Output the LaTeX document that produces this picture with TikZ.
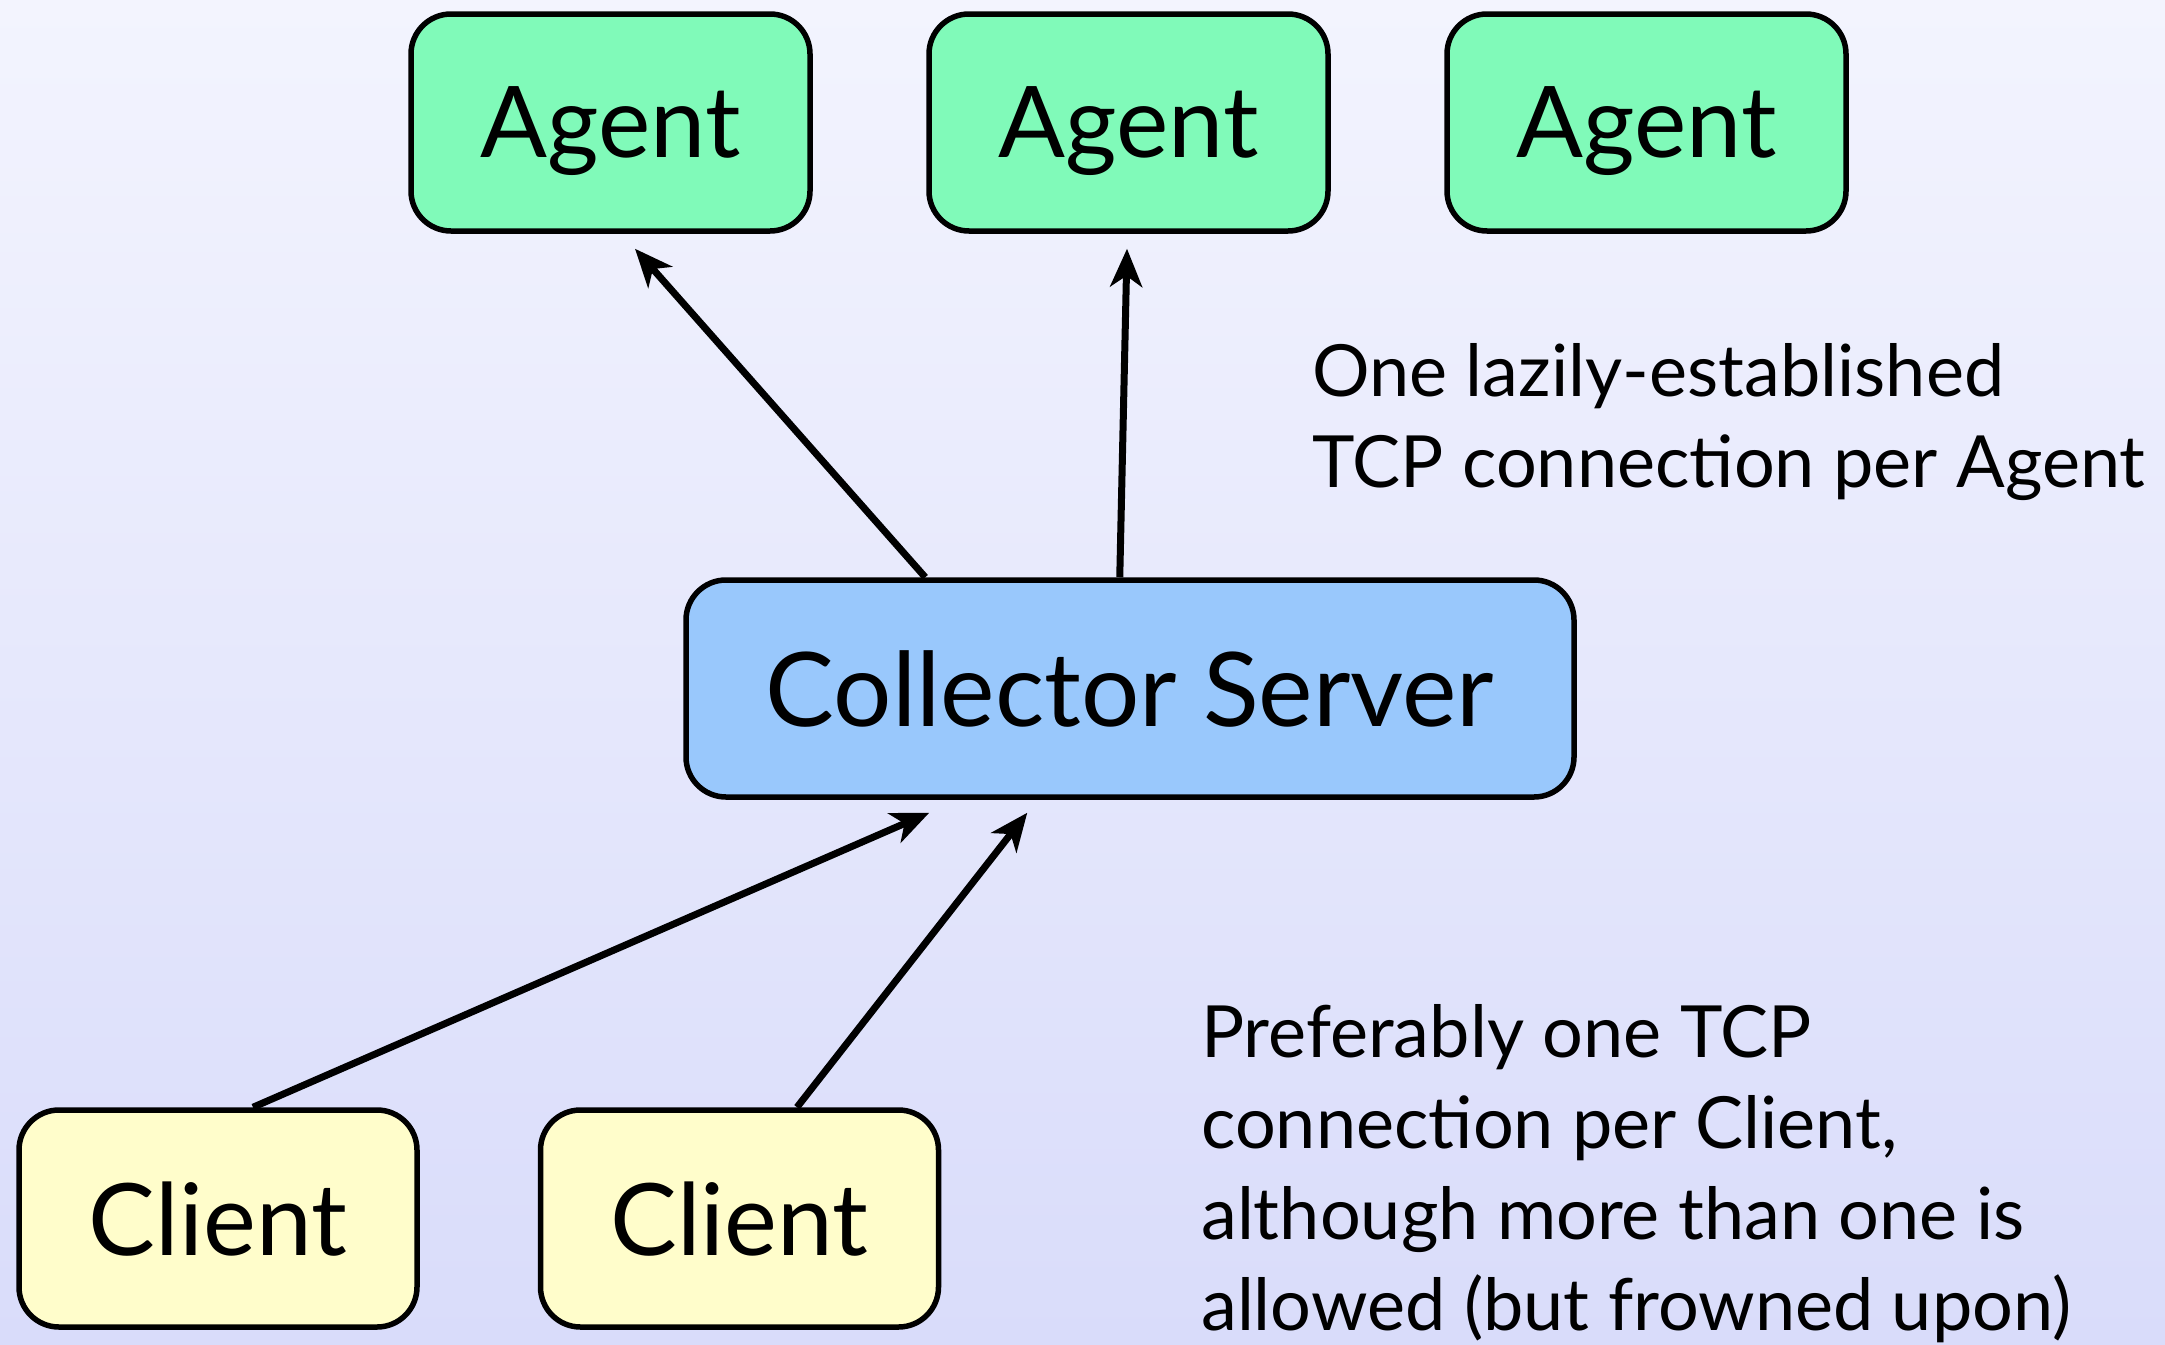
\documentclass[tikz,border=0pt]{standalone}
\usepackage{fontspec}
\setmainfont{Lato}
\usetikzlibrary{arrows.meta,calc}

\definecolor{bgtop}{RGB}{243,244,254}
\definecolor{bgbot}{RGB}{217,220,250}
\definecolor{agentfill}{RGB}{128,250,185}
\definecolor{serverfill}{RGB}{153,200,252}
\definecolor{clientfill}{RGB}{255,253,203}

\tikzset{
  box/.style={draw=black, line width=5.5pt, rounded corners=40pt,
    minimum height=217pt, inner sep=0pt, text depth=0pt},
  agentbox/.style={box, fill=agentfill, minimum width=399pt,
    font=\fontsize{99}{110}\selectfont},
  serverbox/.style={box, fill=serverfill, minimum width=888pt,
    font=\fontsize{103}{110}\selectfont},
  clientbox/.style={box, fill=clientfill, minimum width=398pt,
    font=\fontsize{100}{110}\selectfont},
  note/.style={align=left, inner sep=0pt, anchor=north west,
    font=\fontsize{72}{91}\selectfont},
  link/.style={line width=7pt, -{Stealth[length=38pt, width=32pt, inset=11pt]}}
}

\begin{document}
\begin{tikzpicture}[x=1pt, y=-1pt]
  % page frame with vertical background gradient
  \shade[top color=bgtop, bottom color=bgbot] (0,0) rectangle (2165,1344);
  \useasboundingbox (0,0) rectangle (2165,1344);

  % agents
  \node[agentbox] (ag1) at (610.5,122.5) {Agent};
  \node[agentbox] (ag2) at (1128.5,122.5) {Agent};
  \node[agentbox] (ag3) at (1646.5,122.5) {Agent};

  % collector
  \node[serverbox] (coll) at (1130,688.5) {Collector Server};

  % clients
  \node[clientbox] (cl1) at (218,1218.5) {Client};
  \node[clientbox] (cl2) at (739.5,1218.5) {Client};

  % connection end points: starts on the box borders, tips just short of the targets
  \coordinate (cA) at ($(coll.north west)+(242,0)$);
  \coordinate (cB) at ($(coll.north west)+(436.5,0)$);
  \coordinate (tA) at ($(ag1.south)+(24.5,15)$);
  \coordinate (tB) at ($(ag2.south)+(-1.5,15)$);
  \coordinate (sA) at ($(cl1.north)+(35,0)$);
  \coordinate (sB) at ($(cl2.north)+(57.5,0)$);
  \coordinate (eA) at ($(coll.south west)+(246,13)$);
  \coordinate (eB) at ($(coll.south west)+(344,13)$);

  \draw[link] (cA) -- (tA);
  \draw[link] (cB) -- (tB);
  \draw[link] (sA) -- (eA);
  \draw[link] (sB) -- (eB);

  % annotations
  \node[note] (n1) at (1312,343) {One lazily-established\\TCP connection per Agent};
  \node[note] (n2) at (1201,1004) {Preferably one TCP\\connection per Client,\\although more than one is\\allowed (but frowned upon)};
\end{tikzpicture}
\end{document}
